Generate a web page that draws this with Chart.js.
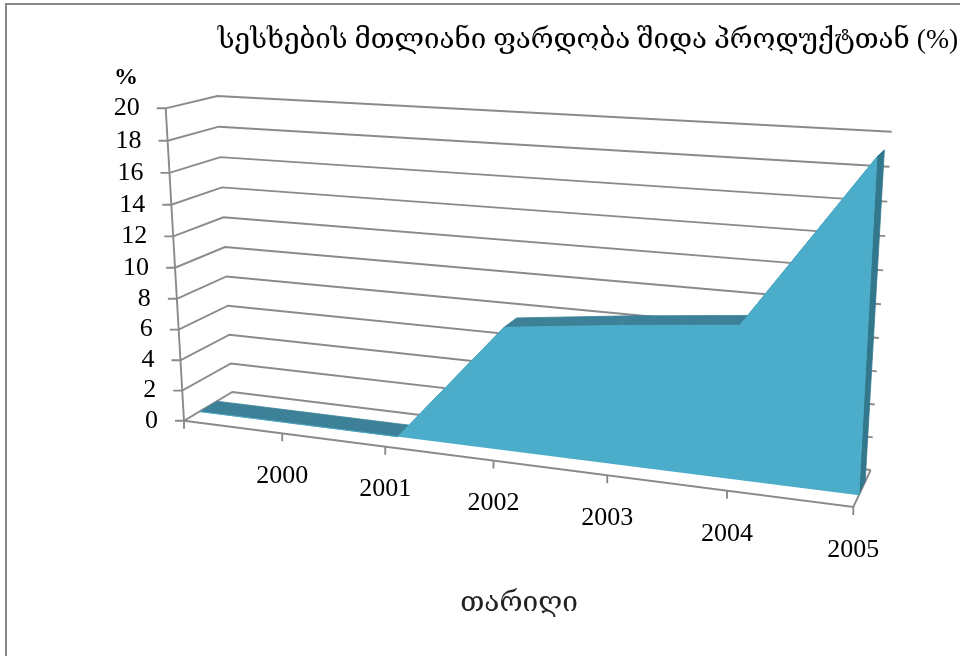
<!DOCTYPE html>
<html>
<head>
<meta charset="utf-8">
<title>სესხების მთლიანი ფარდობა</title>
<script src="https://cdn.jsdelivr.net/npm/chart.js@4"></script>
<style>
    html, body { margin: 0; padding: 0; background: #fff; overflow: hidden; }
    #frame { position: absolute; left: 5px; top: 3px; right: 0; bottom: 0; border-left: 2px solid #878787; border-top: 2px solid #878787; }
    canvas { position: absolute; left: 0; top: 0; display: block; }
</style>
</head>
<body>
<div id="frame"></div>
<canvas id="areaChart" width="960" height="656"></canvas>
<script>
const chartTitle = 'სესხების მთლიანი ფარდობა შიდა პროდუქტთან (%)';
const xTitle = 'თარიღი';
const yTitle = '%';
const categories = ['2000', '2001', '2002', '2003', '2004', '2005'];
const seriesValues = [0, 0, 7.7, 8.5, 9.2, 19.3];
const yTicks = [0, 2, 4, 6, 8, 10, 12, 14, 16, 18, 20];

const yMax = 20;
const gridColor = '#8a8a8a';
const frontColor = '#4badc9';
const topColor = '#3c8197';
const sideColor = '#33778d';
const serif = '"Liberation Serif", "DejaVu Serif", serif';

// corners of the 3d box on screen (f = front, b = back, l = left, r = right)
const floorBox = { fl: [184, 420.7], fr: [853.3, 507], bl: [232.3, 392], br: [870.7, 470] };
const topBox = { fl: [165.7, 108.3], fr: [871, 150], bl: [217.3, 96], br: [891.7, 131.7] };
const areaFront = 0.32;
const areaBack = 0.68;

function warp(t, a) {
    return a * t / (1 + (a - 1) * t);
}

function mix(p, q, t) {
    return [p[0] + (q[0] - p[0]) * t, p[1] + (q[1] - p[1]) * t];
}

function boxPoint(box, u, d) {
    return mix(mix(box.fl, box.fr, u), mix(box.bl, box.br, u), d);
}

// u: 0..1 along the categories, d: 0..1 into the depth, value on the y axis
function project(u, d, value) {
    const uw = warp(u, 0.86);
    const p = mix(boxPoint(floorBox, uw, d), boxPoint(topBox, uw, d), warp(value / yMax, 0.96));
    return { x: p[0], y: p[1] };
}

function categoryU(i) {
    return (i + 1) / categories.length;
}

function poly(points, color) {
    return { data: points, showLine: true, pointRadius: 0, borderWidth: 0.8, borderColor: color, backgroundColor: color, fill: 'shape', clip: false };
}

function line(points) {
    return { data: points, showLine: true, pointRadius: 0, borderWidth: 1.9, borderColor: gridColor, fill: false, clip: false };
}

function buildDatasets() {
    const last = categories.length - 1;
    const front = [project(0, areaFront, 0), project(0, areaFront, seriesValues[0])];
    seriesValues.forEach((v, i) => front.push(project(categoryU(i), areaFront, v)));
    front.push(project(1, areaFront, 0));

    const sets = [poly(front, frontColor)];

    sets.push(poly([
        project(1, areaFront, 0),
        project(1, areaFront, seriesValues[last]),
        project(1, areaBack, seriesValues[last]),
        project(1, areaBack, 0),
    ], sideColor));

    // top faces of the area, one per segment
    const us = [0].concat(categories.map((c, i) => categoryU(i)));
    const vs = [seriesValues[0]].concat(seriesValues);
    for (let i = 0; i < us.length - 1; i++) {
        sets.push(poly([
            project(us[i], areaFront, vs[i]),
            project(us[i + 1], areaFront, vs[i + 1]),
            project(us[i + 1], areaBack, vs[i + 1]),
            project(us[i], areaBack, vs[i]),
        ], topColor));
    }

    // axes and grid
    sets.push(line([project(0, 0, 0), project(1, 0, 0), project(1, 1, 0)]));
    sets.push(line([project(0, 0, 0), project(0, 0, yMax)]));
    yTicks.forEach(v => {
        const start = project(0, 0, v);
        sets.push(line([{ x: start.x - 9, y: start.y }, start, project(0, 1, v), project(1, 1, v)]));
    });
    us.forEach(u => {
        const p = project(u, 0, 0);
        sets.push(line([p, { x: p.x, y: p.y + 8 }]));
    });
    return sets;
}

const textPlugin = {
    id: 'chartText',
    afterDraw(chart) {
        const ctx = chart.ctx;
        ctx.save();
        ctx.fillStyle = '#000';
        ctx.textBaseline = 'middle';

        ctx.font = '26px ' + serif;
        ctx.textAlign = 'right';
        yTicks.forEach(v => {
            const p = project(0, 0, v);
            ctx.fillText(String(v), p.x - 26, p.y);
        });

        ctx.textAlign = 'center';
        categories.forEach((c, i) => {
            const p = project(categoryU(i), 0, 0);
            ctx.fillText(c, p.x, p.y + 43);
        });

        ctx.font = 'bold 24px ' + serif;
        ctx.fillText(yTitle, 126, 78);

        ctx.font = '27.7px ' + serif;
        ctx.fillText(chartTitle, 588, 41);
        ctx.fillStyle = '#222';
        ctx.font = '28px ' + serif;
        ctx.fillText(xTitle, 519, 604);
        ctx.restore();
    },
};

new Chart(document.getElementById('areaChart').getContext('2d'), {
    type: 'scatter',
    data: { datasets: buildDatasets() },
    options: {
        responsive: false,
        animation: false,
        layout: { padding: 0 },
        plugins: { legend: { display: false }, tooltip: { enabled: false }, title: { display: false } },
        scales: {
            x: { type: 'linear', display: false, min: 0, max: 960 },
            y: { type: 'linear', display: false, min: 0, max: 656, reverse: true },
        },
    },
    plugins: [textPlugin],
});
</script>
</body>
</html>
